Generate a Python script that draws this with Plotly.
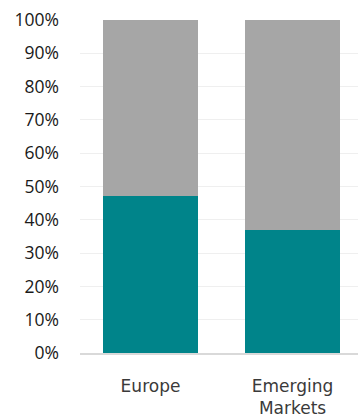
import plotly.graph_objects as go

categories = ["Europe", "Emerging<br>Markets"]
teal_values = [47, 37]
gray_values = [53, 63]
y_ticks = [0, 10, 20, 30, 40, 50, 60, 70, 80, 90, 100]
y_tick_labels = [f"{v}%" for v in y_ticks]

x_pos = list(range(len(categories)))

fig = go.Figure()
fig.add_trace(go.Bar(x=x_pos, y=teal_values, marker=dict(color="#00848A", line=dict(width=0)),
                     width=0.67, hoverinfo="skip"))
fig.add_trace(go.Bar(x=x_pos, y=gray_values, marker=dict(color="#A6A6A6", line=dict(width=0)),
                     width=0.67, hoverinfo="skip"))

fig.update_layout(
    barmode="stack",
    width=358, height=419,
    margin=dict(l=80, r=0, t=20, b=66),
    plot_bgcolor="white", paper_bgcolor="white",
    showlegend=False,
    xaxis=dict(
        range=[-0.4965, 1.461],
        tickmode="array", tickvals=x_pos, ticktext=categories,
        showgrid=False, zeroline=False, automargin=False,
        showline=True, linecolor="#D9D9D9", linewidth=1.5,
        ticks="", ticklabelstandoff=17,
        tickfont=dict(family="DejaVu Sans", size=17, color="#3A3A3A"),
    ),
    yaxis=dict(
        range=[0, 100], automargin=False,
        tickmode="array", tickvals=y_ticks, ticktext=y_tick_labels,
        showgrid=True, gridcolor="#EFEFEF", gridwidth=1,
        zeroline=False, showline=False, ticks="",
        ticklabelstandoff=20,
        tickfont=dict(family="Open Sans", size=17.5, color="#1A1A1A"),
    ),
)

fig.write_html("out.html")
